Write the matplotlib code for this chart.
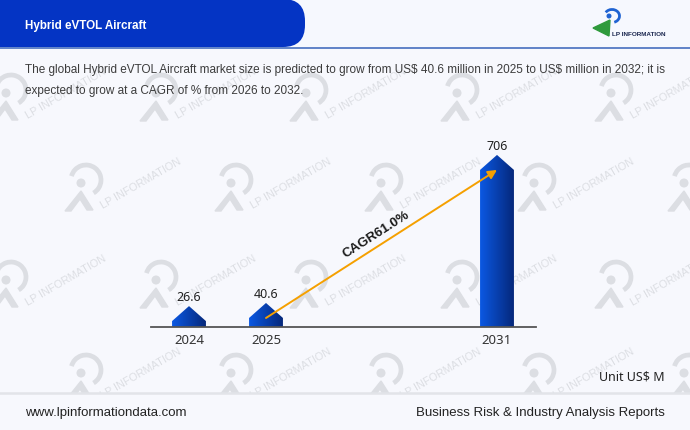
import numpy as np
import matplotlib.pyplot as plt
from matplotlib.patches import Polygon, FancyBboxPatch, Arc, Circle, Rectangle
from matplotlib.colors import LinearSegmentedColormap

# data
years = ['2024', '2025', '2031']
xpos = [0, 1, 4]
values = [26.6, 40.6, 706]
cagr_label = 'CAGR61.0%'

title = 'Hybrid eVTOL Aircraft'
desc = [r'The global Hybrid eVTOL Aircraft market size is predicted to grow from US\$ 40.6 million in 2025 to US\$ million in 2032; it is',
        'expected to grow at a CAGR of % from 2026 to 2032.']
unit = r'Unit US\$ M'
footer_left = 'www.lpinformationdata.com'
footer_right = 'Business Risk & Industry Analysis Reports'

BG = '#f7f8fd'
WM = '#dcdee3'

fig = plt.figure(figsize=(6.9, 4.31), dpi=100)
fig.patch.set_facecolor(BG)

# background layer in pixel units
bg = fig.add_axes([0, 0, 1, 1])
bg.set_xlim(0, 690)
bg.set_ylim(431, 0)
bg.axis('off')


def watermark(cx, cy):
    bg.add_patch(Arc((cx + 4, cy - 9), 30, 30, theta1=-165, theta2=60, lw=3.4, color=WM, zorder=1))
    bg.add_patch(Circle((cx - 1, cy - 6), 3.8, color=WM, zorder=1))
    bg.add_patch(Polygon([(cx - 17, cy + 22), (cx - 1, cy + 2), (cx + 11, cy + 21),
                          (cx + 5, cy + 21), (cx - 2, cy + 10), (cx - 11, cy + 22)],
                         closed=True, color=WM, zorder=1))
    bg.text(cx + 21, cy + 19, 'LP INFORMATION', rotation=30, rotation_mode='anchor',
            ha='left', va='baseline', fontsize=7.8, color=WM, family='Liberation Sans', zorder=1)


for row, y in enumerate([100, 190, 287, 380]):
    xs = [7, 157, 307, 458, 612] if row % 2 == 0 else [82, 232, 382, 535, 685]
    for x in xs:
        watermark(x, y)

# header
bg.add_patch(Rectangle((0, 0), 690, 48, facecolor='#f6f8fe', edgecolor='none', zorder=3))
bg.add_patch(FancyBboxPatch((-40, 0), 345, 48, boxstyle='round,pad=0,rounding_size=22',
                            facecolor='#0434c4', edgecolor='none', zorder=4))
bg.plot([0, 690], [48.5, 48.5], color='#5479c4', lw=1.3, zorder=5)
bg.text(25, 26, title, color='white', fontsize=8.4, fontweight='bold',
        family='Liberation Sans', va='center', ha='left', zorder=6)

# logo
bg.add_patch(Arc((612, 17), 15, 13, theta1=-150, theta2=70, lw=2.0, color='#1f63d2', zorder=5))
bg.add_patch(Circle((609, 17), 1.8, color='#1f63d2', zorder=5))
bg.add_patch(Polygon([(593, 29), (610, 21), (609, 37)], closed=True, color='#2f9a3c', zorder=5))
bg.text(612, 34, 'LP INFORMATION', fontsize=4.6, fontweight='bold', color='#1c2850',
        family='Liberation Sans', va='center', ha='left', zorder=6)

# description
bg.text(25, 70, desc[0], fontsize=8.45, color='#3c3c3c', family='Liberation Sans', va='center', zorder=6)
bg.text(25, 91, desc[1], fontsize=8.45, color='#3c3c3c', family='Liberation Sans', va='center', zorder=6)

# footer
bg.add_patch(Rectangle((0, 394), 690, 40, facecolor=BG, edgecolor='none', zorder=3))
bg.plot([0, 690], [394, 394], color='#e2e4e9', lw=1.8, zorder=4)
bg.text(25, 413, footer_left, fontsize=9.5, color='#222222', family='Liberation Sans', va='center', zorder=6)
bg.text(665, 413, footer_right, fontsize=9.5, color='#222222', family='Liberation Sans',
        va='center', ha='right', zorder=6)
bg.text(665, 377, unit, fontsize=9, color='#222222', family='Noto Sans', va='center', ha='right', zorder=6)

# chart
ax = fig.add_axes([150.5 / 690, (431 - 328) / 431, 385 / 690, (328 - 130) / 431])
ax.patch.set_alpha(0)
ax.set_xlim(-0.5, 4.5)
ax.set_ylim(0, 890)

px_per_unit = (328 - 130) / 890
tri = 15 / px_per_unit
w = 0.44
cmap = LinearSegmentedColormap.from_list('bar', ['#0b58e2', '#05287c'])
grad = np.linspace(0, 1, 64).reshape(1, -1)

for x, v in zip(xpos, values):
    pts = [(x - w / 2, 0), (x - w / 2, v), (x, v + tri), (x + w / 2, v), (x + w / 2, 0)]
    poly = Polygon(pts, closed=True, facecolor='none', edgecolor='none')
    ax.add_patch(poly)
    im = ax.imshow(grad, cmap=cmap, extent=[x - w / 2, x + w / 2, 0, v + tri],
                   aspect='auto', zorder=2)
    im.set_clip_path(poly)
    ax.annotate(f'{v:g}', (x, v + tri), xytext=(0, 4.5), textcoords='offset points',
                ha='center', va='baseline', fontsize=9, color='#222222', family='Noto Sans')

ax.set_xlim(-0.5, 4.5)
ax.set_ylim(0, 890)

ax.set_xticks(xpos, years)
ax.tick_params(axis='x', length=0, pad=4, labelsize=9.5, labelcolor='#333333')
for lab in ax.get_xticklabels():
    lab.set_family('Noto Sans')
ax.set_yticks([])
for s in ['top', 'right', 'left']:
    ax.spines[s].set_visible(False)
ax.spines['bottom'].set_color('#555555')
ax.spines['bottom'].set_linewidth(1.3)

# CAGR arrow
ax.annotate('', xy=(xpos[2], values[2]), xytext=(xpos[1], values[1]),
            arrowprops=dict(arrowstyle='-|>', color='#f5a000', lw=1.4, mutation_scale=13,
                            shrinkA=0, shrinkB=0), zorder=3)
p1 = ax.transData.transform((xpos[1], values[1]))
p2 = ax.transData.transform((xpos[2], values[2]))
ang = np.degrees(np.arctan2(p2[1] - p1[1], p2[0] - p1[0]))
ax.annotate(cagr_label, ((xpos[1] + xpos[2]) / 2, (values[1] + values[2]) / 2),
            xytext=(-4, 7), textcoords='offset points', rotation=ang, rotation_mode='anchor',
            ha='center', va='center', fontsize=9.5, fontweight='bold', color='#1a1a1a',
            family='Liberation Sans', zorder=4)

plt.savefig('out.png', dpi=100, facecolor=BG)
